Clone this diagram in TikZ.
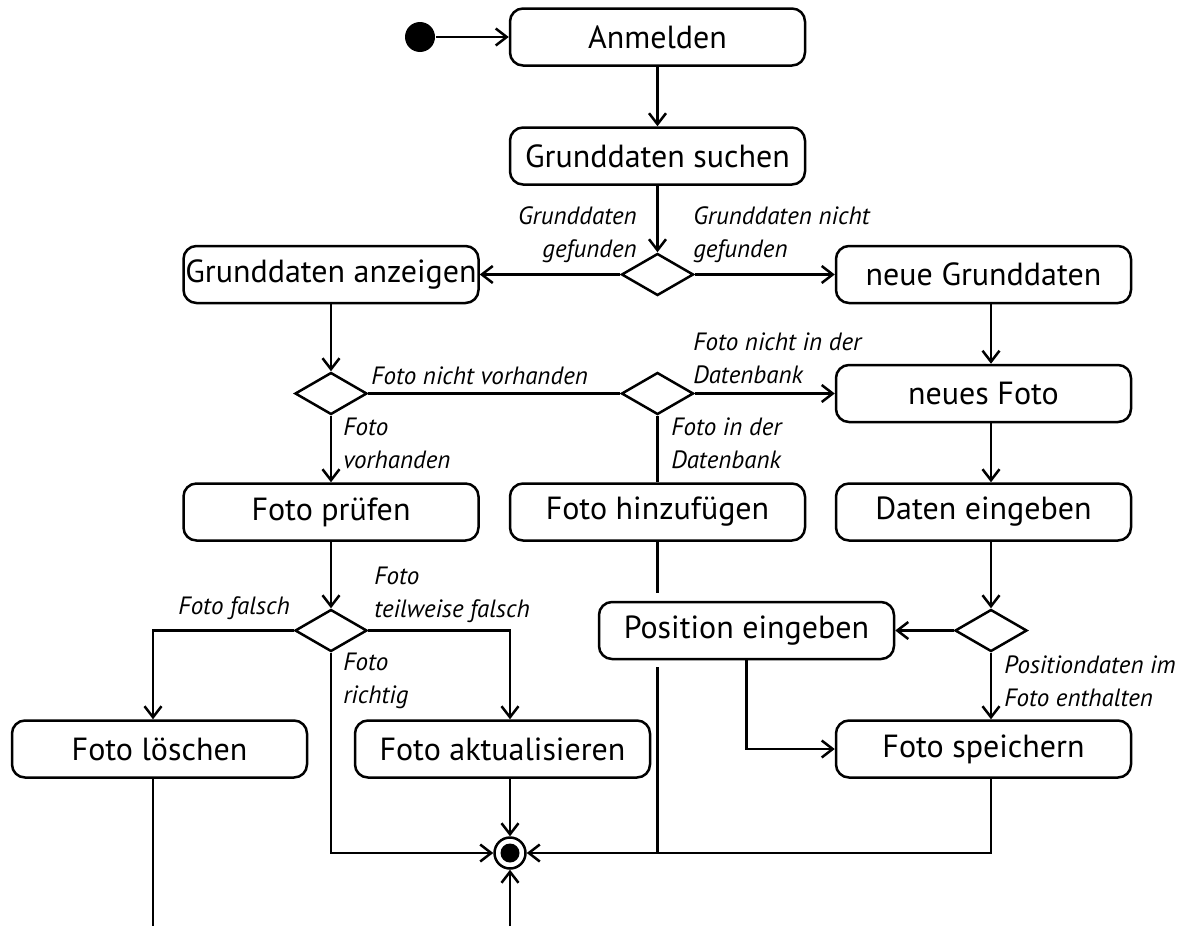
\documentclass[tikz,border=0pt]{standalone}
\usepackage{fontspec}
\setmainfont{PT Sans}
\usetikzlibrary{arrows.meta,shapes.geometric,calc}
\newcommand\actfont{\fontsize{32}{36}\selectfont}
\newcommand\guardfont{\itshape\fontsize{25}{33}\selectfont}
\begin{document}
\begin{tikzpicture}[x=1pt,y=-1pt,line width=2.5pt,
  act/.style={draw,rounded corners=13pt,minimum width=295pt,minimum height=57pt,
    inner sep=0pt,font=\actfont},
  dec/.style={draw,diamond,minimum width=72pt,minimum height=42pt,inner sep=0pt},
  guard/.style={inner sep=0pt,font=\guardfont},
  flow/.style={-{Straight Barb[length=11pt,width=17pt]}},
  plain/.style={-}]
\useasboundingbox (0,0) rectangle (1188,926);

% start and end
\node[circle,fill,minimum size=30pt,inner sep=0pt] (init) at (420,37) {};
\node[circle,draw,minimum size=31pt,inner sep=0pt,
  path picture={\fill (path picture bounding box.center) circle (9.5pt);}] (fin) at (510,853) {};

% actions
\node[act] (anm) at (657.5,37)  {Anmelden};
\node[act] (gs)  at (657.5,156) {Grunddaten suchen};
\node[act] (ga)  at (331,274.5) {Grunddaten anzeigen};
\node[act] (ng)  at (983.5,274.5) {neue Grunddaten};
\node[act] (nf)  at (983.5,393.5) {neues Foto};
\node[act] (fp)  at (331,512)   {Foto prüfen};
\node[act] (fh)  at (657.5,512) {Foto hinzufügen};
\node[act] (de)  at (983.5,512) {Daten eingeben};
\node[act] (pe)  at (746.5,630.5) {Position eingeben};
\node[act] (fl)  at (159.5,749) {Foto löschen};
\node[act] (fa)  at (502.5,749) {Foto aktualisieren};
\node[act] (fs)  at (983.5,749) {Foto speichern};

% decisions
\node[dec] (d1) at (657.5,274.5) {};
\node[dec] (d2) at (331,393.5) {};
\node[dec] (d3) at (657.5,393.5) {};
\node[dec] (d4) at (331,630.5) {};
\node[dec] (d5) at (991,630.5) {};

% loose ends at the lower edge
\coordinate (flend) at (153,926);
\coordinate (finsrc) at (510,926);

% main flow
\draw[flow] (init) -- (anm.west);
\draw[flow] (anm) -- (gs);
\draw[flow] (gs) -- (d1.north);
\draw[flow] (d1.west) -- (ga.east);
\draw[flow] (d1.east) -- (ng.west);
\draw[flow] (ga) -- (d2.north);
\draw[plain] (d2.east) -- (d3.west);
\draw[flow] (d3.east) -- (nf.west);
\draw[plain] (d3.south) -- (fh.north);
\draw[flow] (d2.south) -- (fp.north);

% right column
\draw[flow] (ng.south -| d5) -- (nf.north -| d5);
\draw[flow] (nf.south -| d5) -- (de.north -| d5);
\draw[flow] (de.south -| d5) -- (d5.north);
\draw[flow] (d5.west) -- (pe.east);
\draw[flow] (d5.south) -- (fs.north -| d5);
\draw[flow] (pe.south) |- (fs.west);

% checking the photo
\draw[flow] (fp) -- (d4.north);
\draw[flow] (d4.west) -| (fl.north -| flend);
\draw[flow] (d4.east) -| (fa.north -| fin);
\draw[flow] (d4.south) |- (fin.west);
\draw[flow] (fa.south -| fin) -- (fin.north);

% paths into the final node
\draw[plain] (fh.south) -- ($(pe.north -| fh)+(0,-8)$);
\draw[plain] ($(pe.south -| fh)+(0,7)$) -- (fh |- fin);
\draw[flow] (fs.south -| d5) |- (fin.east);
\draw[plain] (fl.south -| flend) -- (flend);
\draw[flow] (finsrc) -- (fin.south);

% guards
\node[guard,anchor=east,align=right] (g1) at (638,235) {Grunddaten\\gefunden};
\node[guard,anchor=west,align=left] (g2) at (692,235) {Grunddaten nicht\\gefunden};
\node[guard,anchor=west] (g3) at (370,376) {Foto nicht vorhanden};
\node[guard,anchor=west,align=left] (g4) at (692,358) {Foto nicht in der\\Datenbank};
\node[guard,anchor=west,align=left] (g5) at (342,443) {Foto\\vorhanden};
\node[guard,anchor=west,align=left] (g6) at (670,443) {Foto in der\\Datenbank};
\node[guard,anchor=east] (g7) at (291,608) {Foto falsch};
\node[guard,anchor=west,align=left] (g8) at (373,595) {Foto\\teilweise falsch};
\node[guard,anchor=west,align=left] (g9) at (342,681) {Foto\\richtig};
\node[guard,anchor=west,align=left] (g10) at (1003,681) {Positiondaten im\\Foto enthalten};
\end{tikzpicture}
\end{document}
